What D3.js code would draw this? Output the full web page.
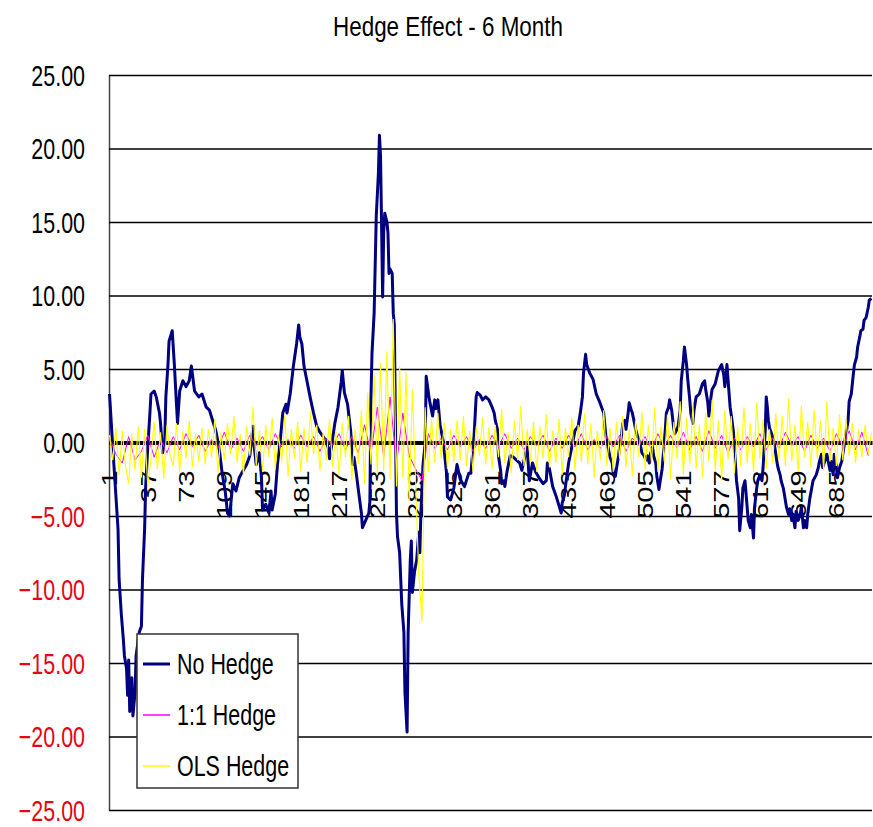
<!DOCTYPE html>
<html>
<head>
<meta charset="utf-8">
<title>Hedge Effect - 6 Month</title>
<script src="https://d3js.org/d3.v7.min.js"></script>
<style>
body { margin: 0; background: #fff; }
svg { display: block; font-family: "Liberation Sans", Arial, sans-serif; }
</style>
</head>
<body>
<div id="chart"></div>
<script>
// chart values
var nCategories = 718;
var xTicks = [1, 37, 73, 109, 145, 181, 217, 253, 289, 325, 361, 397, 433, 469, 505, 541, 577, 613, 649, 685];
var yTicks = [-25, -20, -15, -10, -5, 0, 5, 10, 15, 20, 25];
var seriesNames = ["No Hedge", "1:1 Hedge", "OLS Hedge"];
var seriesColors = ["#000080", "#ff00ff", "#ffff00"];

// No Hedge: [category, value]
var noHedge = [
  [1,3.3],[4,-0.3],[6,-2.5],[9,-5.9],[10,-9.3],[12,-11.6],[14,-13.4],[15,-14.5],[17,-15.4],[18,-17.2],
  [19,-14.8],[20,-18.3],[22,-16.0],[23,-18.6],[25,-17.0],[26,-14.5],[29,-12.9],[31,-12.5],[32,-9.3],[34,-5.9],
  [35,-3.0],[37,-0.3],[39,2.0],[40,3.3],[43,3.5],[45,3.1],[48,2.0],[49,1.3],[51,-0.7],[53,0.2],
  [54,3.1],[56,5.3],[57,6.9],[60,7.6],[62,5.3],[64,2.6],[65,1.3],[67,3.5],[70,4.2],[73,3.8],
  [76,4.2],[78,5.2],[81,3.5],[85,3.1],[88,3.3],[92,2.4],[95,2.2],[98,1.5],[101,0.8],[104,-0.3],
  [107,-2.1],[110,-3.4],[112,-4.8],[114,-5.0],[117,-2.8],[120,-3.3],[123,-2.4],[126,-2.0],[130,-1.5],[133,-0.9],
  [136,1.1],[137,-0.2],[139,-1.5],[142,-0.7],[144,-2.4],[145,-4.6],[148,-4.2],[151,-4.8],[153,-3.3],[154,-4.6],
  [157,-3.5],[159,-1.5],[162,0.4],[164,2.0],[167,2.6],[168,2.0],[171,3.3],[174,5.2],[177,6.7],[179,8.0],
  [180,7.2],[182,6.7],[184,5.2],[187,4.1],[190,3.0],[193,2.0],[196,1.1],[199,0.7],[204,0.2],[207,-0.4],
  [208,-1.1],[210,-0.2],[213,1.3],[216,2.4],[219,4.1],[220,4.9],[222,3.4],[225,2.6],[228,0.7],[230,-1.5],
  [231,-1.0],[233,-2.0],[236,-3.7],[238,-4.8],[239,-5.8],[242,-5.3],[245,-4.8],[246,-4.0],[247,3.0],[248,6.1],
  [250,8.8],[251,12.1],[252,15.4],[254,18.3],[255,20.9],[256,19.5],[257,14.8],[258,9.9],[259,14.3],[260,15.6],
  [262,15.0],[263,14.3],[264,11.5],[265,11.8],[267,11.5],[268,8.8],[269,8.0],[271,-4.8],[272,-6.4],[274,-7.5],
  [276,-11.0],[278,-12.9],[279,-17.0],[281,-19.7],[282,-12.9],[284,-8.0],[285,-6.7],[286,-10.2],[288,-8.8],[290,-8.0],
  [292,-6.1],[293,-7.5],[294,-4.8],[296,-1.5],[298,-0.1],[299,4.5],[301,3.4],[302,2.9],[305,1.8],[307,2.9],
  [308,2.3],[310,2.9],[312,1.2],[315,0.1],[318,-2.0],[319,-3.7],[322,-3.9],[325,-3.1],[328,-1.5],[331,-2.5],
  [335,-3.0],[339,-2.1],[341,-2.1],[344,0.4],[346,3.1],[347,3.4],[350,3.2],[352,2.9],[355,3.1],[358,2.9],
  [361,2.4],[363,2.0],[364,1.5],[366,0.9],[367,-0.9],[369,-1.9],[370,-2.8],[372,-2.6],[373,-3.0],[375,-2.0],
  [378,-0.9],[381,-1.0],[384,-1.2],[387,-1.4],[389,-1.9],[392,-0.9],[394,-0.3],[396,-2.6],[399,-1.4],[402,-2.0],
  [406,-2.5],[409,-2.8],[412,-2.6],[413,-1.4],[415,-1.8],[418,-3.0],[421,-3.6],[424,-4.3],[426,-4.8],[427,-4.1],
  [429,-3.6],[430,-3.0],[433,-1.4],[436,-0.3],[439,0.8],[442,1.1],[444,2.0],[446,3.1],[447,4.7],[449,6.0],
  [450,5.3],[453,4.7],[456,4.3],[459,3.3],[462,2.8],[464,2.4],[466,2.0],[468,0.5],[470,-0.3],[472,-1.0],
  [474,-1.4],[475,-2.1],[477,-2.3],[478,-1.8],[480,-0.9],[481,-0.3],[483,0.6],[484,1.3],[486,1.5],[487,0.9],
  [489,2.0],[490,2.7],[492,2.2],[493,2.0],[495,1.3],[496,0.9],[498,0.4],[500,0.0],[502,-0.7],[504,-0.9],
  [506,-1.2],[507,-0.9],[509,-1.4],[510,-0.8],[512,-0.3],[513,-0.9],[515,-1.4],[516,-2.3],[518,-3.2],[519,-2.7],
  [521,-1.8],[522,-0.9],[524,0.9],[525,2.0],[527,2.4],[528,2.9],[530,2.2],[532,0.9],[533,0.6],[535,0.9],
  [536,1.1],[538,2.2],[539,4.2],[541,5.6],[542,6.5],[544,5.3],[545,4.4],[547,2.9],[548,2.0],[550,1.3],
  [551,2.2],[553,3.1],[556,3.3],[559,4.0],[561,4.2],[562,3.6],[564,2.7],[565,1.8],[567,3.1],[568,3.6],
  [571,4.0],[574,4.9],[577,5.3],[579,4.6],[580,3.8],[582,5.3],[583,4.3],[585,2.4],[586,1.9],[588,0.8],
  [590,-1.5],[591,-2.6],[593,-3.8],[594,-6.0],[596,-4.4],[597,-3.1],[599,-2.6],[601,-4.4],[602,-5.3],[604,-5.8],
  [605,-4.9],[607,-6.5],[608,-4.4],[610,-3.1],[611,-2.6],[613,-2.2],[615,-2.6],[616,-1.7],[618,0.8],[619,3.1],
  [620,2.4],[621,1.5],[622,1.0],[624,0.6],[626,0.1],[627,-0.3],[629,-1.3],[630,-1.7],[632,-2.2],[633,-2.6],
  [635,-3.1],[636,-3.5],[638,-4.4],[640,-4.9],[641,-4.5],[643,-5.3],[644,-4.9],[646,-5.8],[647,-4.7],[649,-5.3],
  [651,-4.9],[652,-4.4],[654,-5.8],[655,-5.3],[657,-5.8],[658,-4.9],[660,-3.8],[663,-2.6],[666,-2.2],[668,-1.7],
  [669,-1.3],[671,-0.8],[672,-1.7],[674,-1.3],[676,-0.8],[679,-1.9],[680,-1.3],[682,-2.2],[683,-0.8],[685,-1.7],
  [686,-2.4],[688,-1.7],[690,-1.3],[691,-0.8],[693,0.1],[694,0.6],[696,1.5],[697,2.8],[699,3.3],[701,4.7],
  [702,5.3],[704,5.8],[705,6.5],[707,7.2],[708,7.6],[710,7.7],[711,8.3],[713,8.5],[715,9.2],[716,9.7],
  [718,9.8]
];

// OLS Hedge, one value every 3 categories starting at 1
var olsStep = 3;
var olsHedge = [
  0.5, -1.2, 1.0, -2.2, 0.8, -1.6, -2.8, 0.6, -1.9, 1.1,
  -2.4, 0.9, -3.0, -1.0, 1.4, -1.8, 0.7, -2.5, 1.2, -0.9,
  -1.6, 1.3, -2.0, 0.8, -1.1, 1.5, -1.7, 0.6, -1.3, 1.0,
  -1.5, 0.9, -1.0, 1.6, -2.1, 0.7, -1.2, 1.3, -0.8, 1.8,
  -1.4, 0.6, -2.2, 1.1, -0.9, 2.4, -1.6, 0.8, -2.0, 1.2,
  -1.0, 1.7, -1.8, 0.5, -1.3, 1.9, -2.3, 0.9, -1.1, 1.4,
  -2.0, 1.0, -1.4, 2.1, -0.8, 1.2, -1.9, 0.7, -1.2, 1.6,
  -1.7, 0.8, -2.2, 1.3, -1.0, 1.8, -2.6, 0.9, -1.5, 2.2,
  -2.8, 3.4, -1.5, 4.6, -2.2, 5.4, -1.9, 6.2, -2.5, 8.4,
  -3.0, 5.2, -2.4, 4.8, -4.0, 3.6, -2.6, -9.0, -12.2, 2.4,
  -2.0, 1.6, -1.4, 2.0, -1.1, 1.3, -1.8, 0.9, -1.3, 1.5,
  -1.2, 1.8, -1.6, 0.8, -2.0, 1.1, -0.9, 1.7, -1.5, 1.0,
  -1.8, 1.2, -1.0, 2.3, -1.4, 0.7, -2.1, 1.5, -1.2, 2.5,
  -1.6, 0.9, -1.3, 1.4, -2.0, 1.1, -1.1, 1.9, -1.7, 0.8,
  -1.4, 1.6, -2.2, 1.0, -1.0, 1.7, -1.9, 1.2, -1.3, 2.0,
  -1.5, 1.3, -2.4, 0.8, -1.2, 2.2, -1.6, 1.0, -2.0, 1.4,
  -1.1, 1.8, -1.7, 0.9, -2.3, 1.5, -1.0, 2.1, -1.8, 1.2,
  -1.4, 2.4, -2.0, 1.1, -1.3, 1.9, -2.5, 1.4, -1.1, 2.8,
  -2.2, 1.7, -1.5, 2.6, -1.8, 1.2, -2.4, 2.0, -1.3, 2.9,
  -1.9, 1.5, -2.6, 2.2, -1.2, 1.8, -2.1, 1.1, -1.6, 2.4,
  -1.4, 1.3, -2.0, 2.7, -1.1, 1.6, -1.8, 0.9, -1.4, 2.0,
  -1.2, 1.8, -1.6, 3.0, -1.3, 1.2, -2.0, 2.5, -1.0, 1.4,
  -1.7, 2.2, -1.1, 1.5, -1.9, 2.8, -1.3, 1.0, -1.6, 1.9,
  -1.2, 1.6, -0.9, 1.3, -1.4, 0.9, -1.0, 1.2, -0.8, 0.7
];

// 1:1 Hedge, one value every 6 categories starting at 1
var oneStep = 6;
var oneToOne = [
  0.3, -0.8, -1.4, 0.4, -1.2, -0.6, 0.5, -1.0, 0.2, -0.7,
  0.4, -0.5, 0.6, -0.3, 0.5, -0.6, 0.2, -0.4, 0.7, -0.5,
  0.3, -0.6, 0.5, -0.2, 0.4, -0.5, 0.6, -0.3, 0.2, -0.4,
  0.5, -0.3, 0.4, -0.6, 0.3, -0.2, 0.6, -0.5, 0.4, -0.7,
  1.2, -0.8, 2.4, -1.0, 3.1, -1.5, 2.0, -0.9, -1.8, -2.6,
  0.6, -0.4, 0.3, -0.5, 0.5, -0.3, 0.4, -0.6, 0.2, -0.4,
  0.5, -0.3, 0.6, -0.4, 0.3, -0.5, 0.4, -0.2, 0.5, -0.6,
  0.3, -0.4, 0.5, -0.3, 0.6, -0.5, 0.2, -0.4, 0.4, -0.3,
  0.5, -0.6, 0.3, -0.2, 0.4, -0.5, 0.6, -0.3, 0.5, -0.4,
  0.7, -0.5, 0.4, -0.6, 0.8, -0.4, 0.5, -0.7, 0.3, -0.5,
  0.4, -0.3, 0.6, -0.5, 0.3, -0.4, 0.7, -0.2, 0.4, -0.6,
  0.5, -0.4, 0.3, -0.6, 0.6, -0.3, 0.8, -0.5, 0.7, -0.9
];

var w = 873;
var h = 827;
var plotLeft = 109, plotRight = 872, plotTop = 75, plotBottom = 810;
var squeeze = 0.77; // the picture is narrow, text looks compressed sideways

var xScale = d3.scaleBand().domain(d3.range(1, nCategories + 1)).range([plotLeft, plotRight]);
var yScale = d3.scaleLinear().domain([-25, 25]).range([plotBottom, plotTop]);
var half = xScale.bandwidth() / 2;

function cx(c) { return xScale(c) + half; }

var svg = d3.select("#chart").append("svg").attr("width", w).attr("height", h);
svg.append("rect").attr("width", w).attr("height", h).attr("fill", "#fff");

// title
svg.append("g").attr("transform", "translate(448,36)")
  .append("text")
  .attr("text-anchor", "middle")
  .attr("transform", "scale(0.83,1)")
  .attr("font-size", 27)
  .text("Hedge Effect - 6 Month");

// y axis with gridlines
var yAxis = svg.append("g")
  .attr("transform", "translate(" + plotLeft + ",0)")
  .call(d3.axisLeft(yScale).tickValues(yTicks).tickFormat(d3.format(".2f"))
    .tickSize(-(plotRight - plotLeft)).tickSizeOuter(0));
yAxis.select(".domain").attr("stroke", "#444").attr("stroke-width", 1.5);
yAxis.selectAll(".tick line").attr("stroke", "#000").attr("stroke-width", 1.5);
yAxis.selectAll(".tick text")
  .attr("font-size", 29)
  .attr("font-family", "Liberation Sans, Arial, sans-serif")
  .attr("x", -24 / 0.74)
  .attr("dy", "0.36em")
  .attr("transform", "scale(0.74,1)")
  .attr("fill", function(d) { return d < 0 ? "#e30613" : "#000"; });

// category axis across zero
var xAxis = svg.append("g")
  .attr("transform", "translate(0," + yScale(0) + ")")
  .call(d3.axisBottom(xScale).tickValues(xTicks).tickSize(0).tickSizeOuter(0));
xAxis.select(".domain").attr("stroke", "#000").attr("stroke-width", 4);
xAxis.selectAll(".tick text")
  .attr("font-size", 29)
  .attr("font-family", "Liberation Sans, Arial, sans-serif")
  .attr("text-anchor", "end")
  .attr("x", -28)
  .attr("y", 0)
  .attr("dy", "0.35em")
  .attr("transform", "scale(" + squeeze + ",1) rotate(-90)")
  .attr("fill", "#000");

// series
var line = d3.line()
  .x(function(d) { return cx(d[0]); })
  .y(function(d) { return yScale(d[1]); });

var olsPts = olsHedge.map(function(v, i) { return [1 + i * olsStep, v]; });
var onePts = oneToOne.map(function(v, i) { return [1 + i * oneStep, v]; });

svg.append("path").datum(noHedge)
  .attr("d", line).attr("fill", "none")
  .attr("stroke", seriesColors[0]).attr("stroke-width", 3)
  .attr("stroke-linejoin", "round");

svg.append("path").datum(onePts)
  .attr("d", line).attr("fill", "none")
  .attr("stroke", seriesColors[1]).attr("stroke-width", 1);

svg.append("path").datum(olsPts)
  .attr("d", line).attr("fill", "none")
  .attr("stroke", seriesColors[2]).attr("stroke-width", 1.1);

// legend
var legend = svg.append("g").attr("transform", "translate(137,634)");
legend.append("rect")
  .attr("width", 161).attr("height", 154)
  .attr("fill", "#fff").attr("stroke", "#333").attr("stroke-width", 1.5);

var item = legend.selectAll(".item")
  .data(seriesNames)
  .enter()
  .append("g")
  .attr("class", "item")
  .attr("transform", function(d, i) { return "translate(0," + (30 + i * 51) + ")"; });

item.append("line")
  .attr("x1", 6).attr("x2", 33)
  .attr("stroke", function(d, i) { return seriesColors[i]; })
  .attr("stroke-width", function(d, i) { return i == 0 ? 3 : 1.5; });

item.append("text")
  .attr("x", 40 / 0.74)
  .attr("dy", "0.36em")
  .attr("font-size", 29)
  .attr("transform", "scale(0.74,1)")
  .text(function(d) { return d; });
</script>
</body>
</html>
